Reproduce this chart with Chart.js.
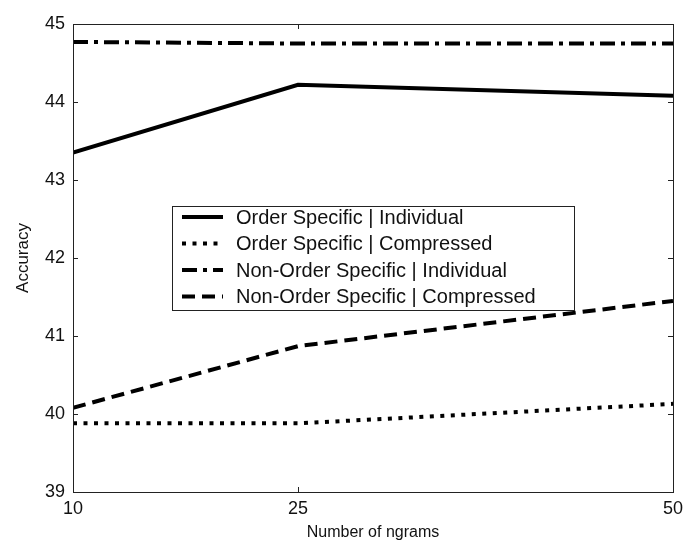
<!DOCTYPE html>
<html>
<head>
<meta charset="utf-8">
<script src="https://cdn.jsdelivr.net/npm/chart.js@4/dist/chart.umd.min.js"></script>
<style>
html,body{margin:0;padding:0;background:#fff;}
#wrap{width:685px;height:543px;}
</style>
</head>
<body>
<div id="wrap"><canvas id="c" width="685" height="543"></canvas></div>
<script>
const ngrams = [10, 25, 50];
const xTicks = [10, 25, 50];
const yTicks = [39, 40, 41, 42, 43, 44, 45];
const orderSpecificIndividual = [43.35, 44.22, 44.08];
const orderSpecificCompressed = [39.88, 39.88, 40.13];
const nonOrderSpecificIndividual = [44.77, 44.75, 44.75];
const nonOrderSpecificCompressed = [40.08, 40.87, 41.45];
const seriesLabels = [
  'Order Specific | Individual',
  'Order Specific | Compressed',
  'Non-Order Specific | Individual',
  'Non-Order Specific | Compressed'
];

const FONT = "'Liberation Sans', Arial, Helvetica, sans-serif";

function pts(vals){ return ngrams.map((x,i)=>({x:x,y:vals[i]})); }

const styles = [
  {dash: []},
  {dash: [4, 6.5]},
  {dash: [15, 6, 4, 6]},
  {dash: [13, 7]}
];
const seriesData = [orderSpecificIndividual, orderSpecificCompressed, nonOrderSpecificIndividual, nonOrderSpecificCompressed];

const datasets = seriesData.map((d,i)=>({
  label: seriesLabels[i],
  data: pts(d),
  borderColor: '#000',
  backgroundColor: '#000',
  borderWidth: 4,
  borderDash: styles[i].dash,
  borderCapStyle: 'butt',
  borderJoinStyle: 'miter',
  pointRadius: 0,
  tension: 0,
  fill: false
}));

const framePlugin = {
  id: 'frame',
  afterDraw(chart){
    const ctx = chart.ctx;
    const a = chart.chartArea;
    const xs = chart.scales.x, ys = chart.scales.y;
    ctx.save();
    ctx.strokeStyle = '#222';
    ctx.lineWidth = 1;
    ctx.strokeRect(Math.round(a.left)+0.5, Math.round(a.top)+0.5, Math.round(a.right-a.left), Math.round(a.bottom-a.top));
    ctx.beginPath();
    const tl = 5;
    yTicks.forEach(v=>{
      const y = Math.round(ys.getPixelForValue(v))+0.5;
      ctx.moveTo(a.left, y); ctx.lineTo(a.left+tl, y);
      ctx.moveTo(a.right, y); ctx.lineTo(a.right-tl, y);
    });
    xTicks.forEach(v=>{
      const x = Math.round(xs.getPixelForValue(v))+0.5;
      ctx.moveTo(x, a.bottom); ctx.lineTo(x, a.bottom-tl);
      ctx.moveTo(x, a.top); ctx.lineTo(x, a.top+tl);
    });
    ctx.stroke();

    // legend inside plot
    const bx = 172.5, by = 206.5, bw = 402, bh = 104;
    ctx.fillStyle = '#fff';
    ctx.fillRect(bx, by, bw, bh);
    ctx.strokeStyle = '#222';
    ctx.lineWidth = 1;
    ctx.strokeRect(bx, by, bw, bh);
    ctx.font = "20px " + FONT;
    ctx.textBaseline = 'middle';
    ctx.textAlign = 'left';
    const rowY = [217, 243.5, 270, 296.5];
    chart.data.datasets.forEach((ds,i)=>{
      const y = rowY[i];
      ctx.save();
      ctx.strokeStyle = ds.borderColor;
      ctx.lineWidth = ds.borderWidth;
      ctx.lineCap = 'butt';
      ctx.setLineDash(ds.borderDash);
      ctx.beginPath();
      ctx.moveTo(182, y); ctx.lineTo(223, y);
      ctx.stroke();
      ctx.restore();
      ctx.fillStyle = '#111';
      ctx.fillText(ds.label, 236, y+1);
    });
    ctx.restore();
  }
};

new Chart(document.getElementById('c'), {
  type: 'line',
  data: { datasets: datasets },
  options: {
    responsive: false,
    animation: false,
    devicePixelRatio: 1,
    layout: { padding: { left: 0, right: 12, top: 24, bottom: 0 } },
    plugins: { legend: { display: false }, tooltip: { enabled: false } },
    scales: {
      x: {
        type: 'linear',
        min: 10, max: 50,
        afterBuildTicks(s){ s.ticks = xTicks.map(v=>({value:v})); },
        afterFit(s){ s.height = 51; s.paddingLeft = 0; s.paddingRight = 0; },
        grid: { display: false, drawTicks: false },
        border: { display: true, color: '#222', width: 1 },
        ticks: { color: '#111', font: { family: FONT, size: 18 }, padding: 6, maxRotation: 0, autoSkip: false },
        title: { display: true, text: 'Number of ngrams', color: '#111', font: { family: FONT, size: 16, lineHeight: 1 }, padding: { top: 2, bottom: 2 } }
      },
      y: {
        type: 'linear',
        min: 39, max: 45,
        afterBuildTicks(s){ s.ticks = yTicks.map(v=>({value:v})); },
        afterFit(s){ s.width = 73; s.paddingTop = 0; s.paddingBottom = 0; },
        grid: { display: false, drawTicks: false },
        border: { display: true, color: '#222', width: 1 },
        ticks: { color: '#111', font: { family: FONT, size: 18 }, padding: 8 },
        title: { display: true, text: 'Accuracy', color: '#111', font: { family: FONT, size: 17, lineHeight: 1 }, padding: { top: 15, bottom: 0 } }
      }
    }
  },
  plugins: [framePlugin]
});
</script>
</body>
</html>
